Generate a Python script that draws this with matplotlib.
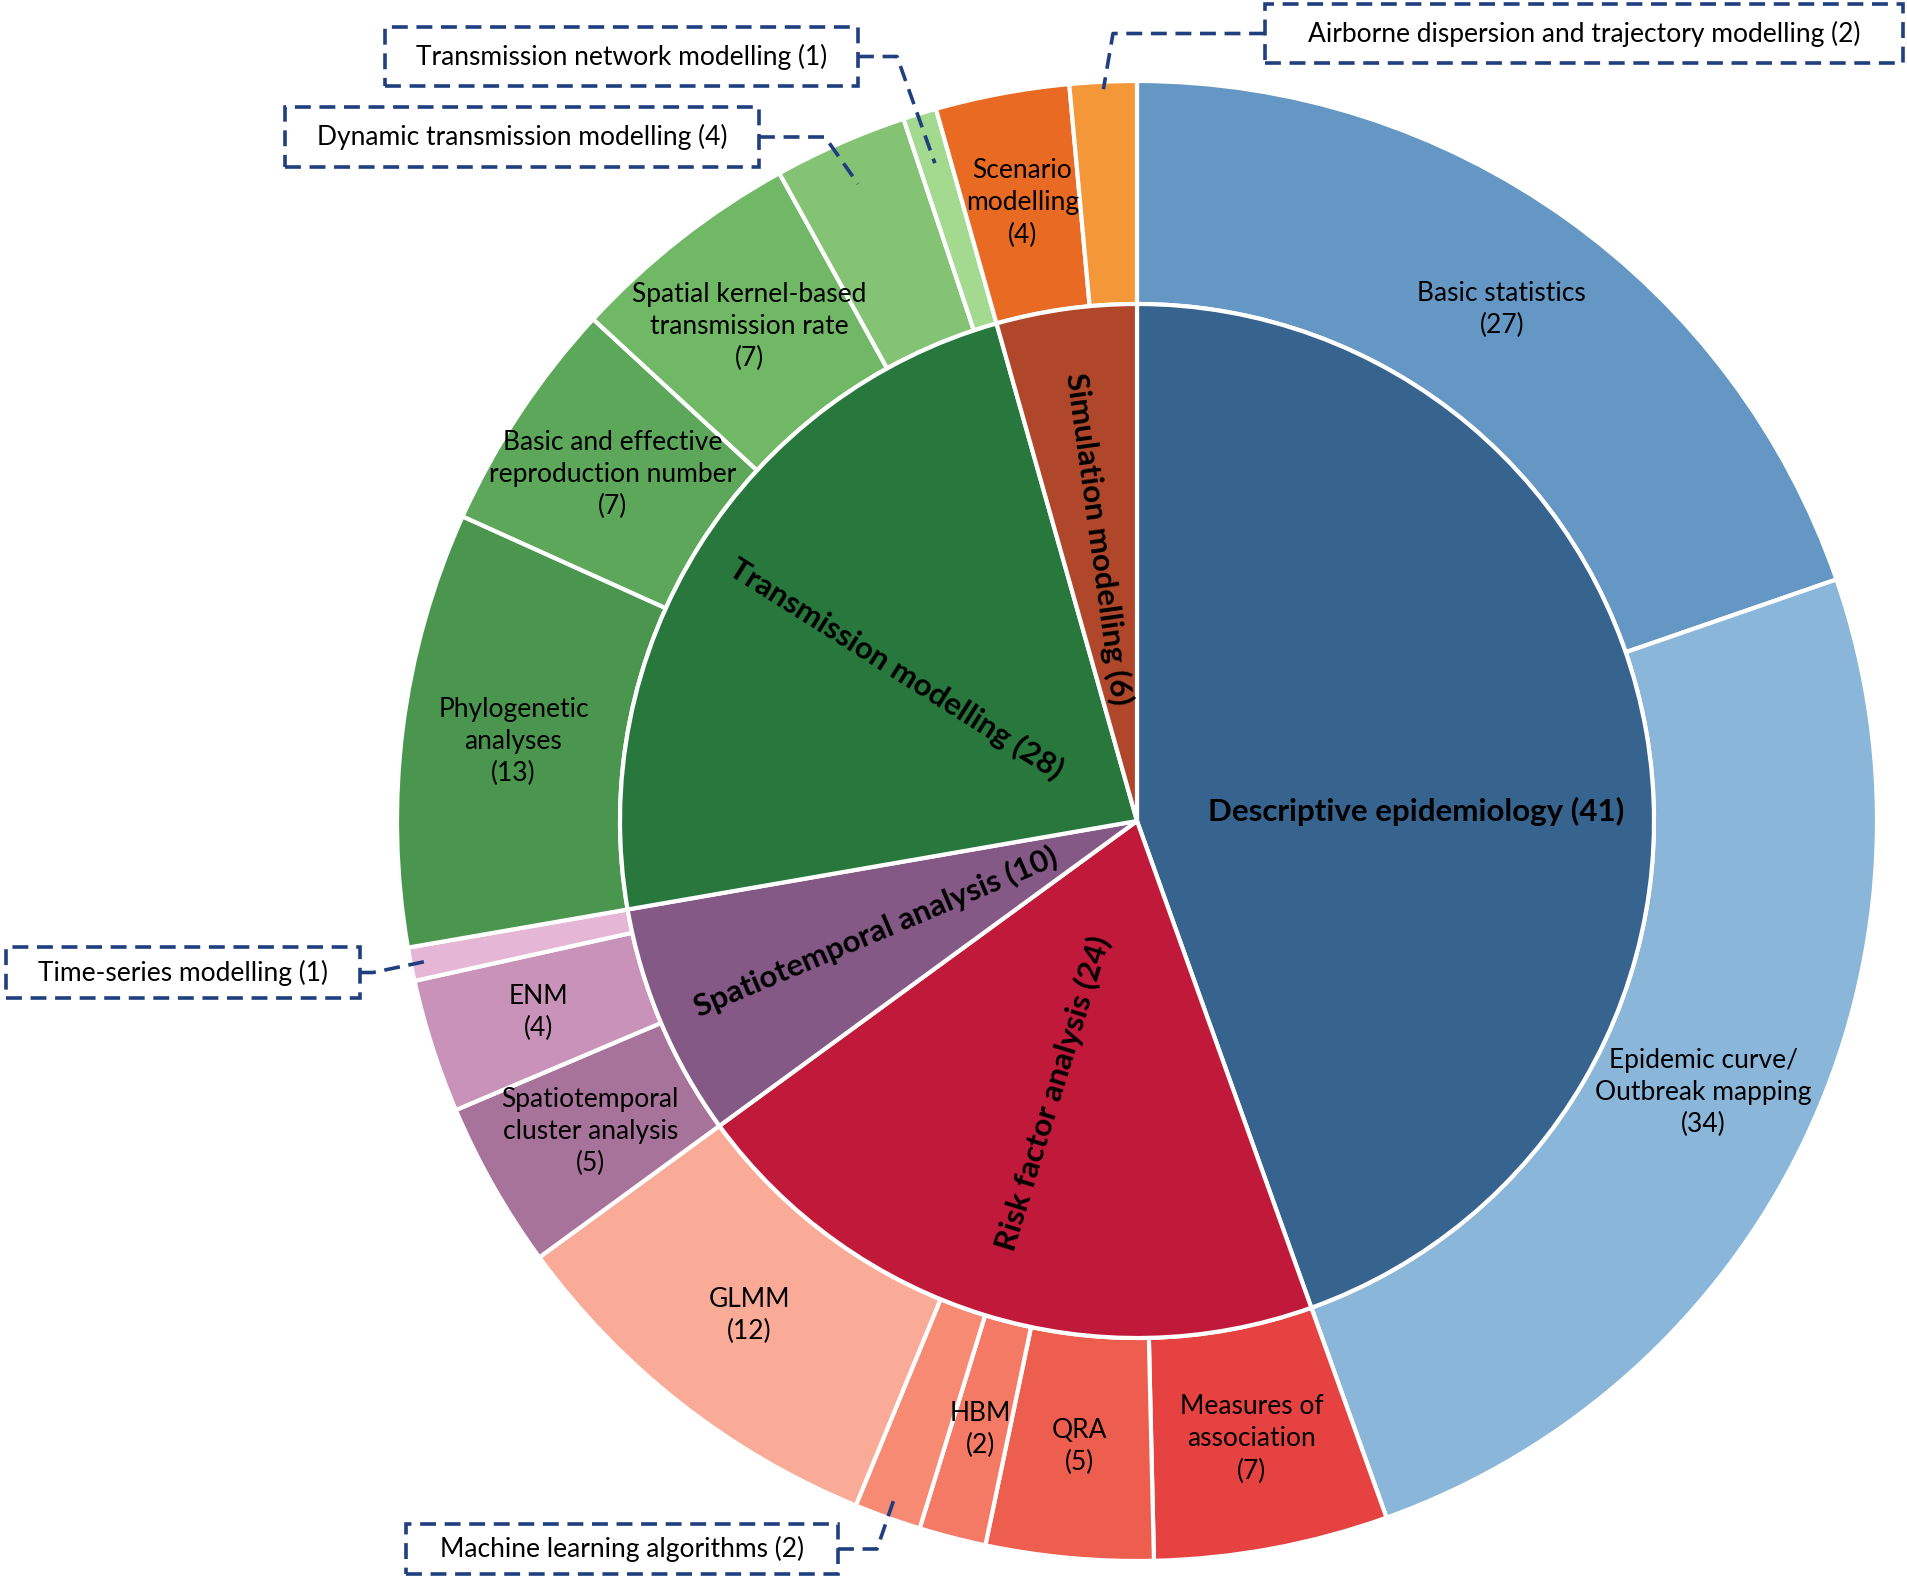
"""
Sunburst of analytical approaches (inner ring) and methods (outer ring)
"""
import numpy as np
import matplotlib.pyplot as plt
from matplotlib.patches import Rectangle

plt.rcParams['font.family'] = ['Lato', 'DejaVu Sans']

# inner ring: main approach, count shown in label
groups = ['Descriptive epidemiology', 'Risk factor analysis', 'Spatiotemporal analysis',
          'Transmission modelling', 'Simulation modelling']
group_counts = [41, 24, 10, 28, 6]
group_colors = ['#37638F', '#C1193A', '#845986', '#28773D', '#B0462A']

# outer ring: methods, clockwise from 12 o'clock
methods = ['Basic statistics', 'Epidemic curve/\nOutbreak mapping', 'Measures of\nassociation',
           'QRA', 'HBM', 'Machine learning algorithms', 'GLMM',
           'Spatiotemporal\ncluster analysis', 'ENM', 'Time-series modelling',
           'Phylogenetic\nanalyses', 'Basic and effective\nreproduction number',
           'Spatial kernel-based\ntransmission rate', 'Dynamic transmission modelling',
           'Transmission network modelling', 'Scenario\nmodelling',
           'Airborne dispersion and trajectory modelling']
method_counts = [27, 34, 7, 5, 2, 2, 12, 5, 4, 1, 13, 7, 7, 4, 1, 4, 2]
method_group = [0, 0, 1, 1, 1, 1, 1, 2, 2, 2, 3, 3, 3, 3, 3, 4, 4]
method_colors = ['#6497C3', '#8AB6DA', '#E64242', '#EE5E4F', '#F47A66', '#F68A72', '#FAAB98',
                 '#A8739B', '#C993B9', '#E6B6D7', '#4A964F', '#5CA75A', '#70B766',
                 '#83C373', '#A4DA8F', '#E86A23', '#F39738']

# methods shown in dashed callout boxes instead of inside the ring
callouts = ['Machine learning algorithms', 'Time-series modelling',
            'Dynamic transmission modelling', 'Transmission network modelling',
            'Airborne dispersion and trajectory modelling']

W, H = 1907, 1579
cx, cy = 1137, H - 821
r_out, r_in = 740, 517
box_color = '#1F3F7F'
dash = (0, (4.4, 2.4))
fs = 19
fs_bold = 22.5


def mid_angles(sizes):
    cum = np.cumsum([0] + list(sizes))
    tot = cum[-1]
    return [np.deg2rad(90 - 360 * (cum[i] + cum[i + 1]) / 2 / tot) for i in range(len(sizes))]


def to_xy(angle, r):
    return cx + r * np.cos(angle), cy + r * np.sin(angle)


group_sizes = [sum(c for c, g in zip(method_counts, method_group) if g == i) for i in range(len(groups))]

fig = plt.figure(figsize=(W / 100, H / 100), dpi=100)
ax = fig.add_axes([0, 0, 1, 1])

ax.pie(method_counts, radius=r_out, center=(cx, cy), startangle=90, counterclock=False,
       colors=method_colors, wedgeprops=dict(width=r_out - r_in, edgecolor='white', linewidth=3))
ax.pie(group_sizes, radius=r_in, center=(cx, cy), startangle=90, counterclock=False,
       colors=group_colors, wedgeprops=dict(edgecolor='white', linewidth=3))
ax.set_xlim(0, W)
ax.set_ylim(0, H)
ax.axis('off')

# outer labels
m_mid = mid_angles(method_counts)
for name, n, a in zip(methods, method_counts, m_mid):
    if name in callouts:
        continue
    x, y = to_xy(a, (r_in + r_out) / 2)
    ax.text(x, y, f'{name}\n({n})', ha='center', va='center', fontsize=fs, linespacing=1.35)

# inner labels, radial except the big one
g_mid = mid_angles(group_sizes)
for i, (name, n) in enumerate(zip(groups, group_counts)):
    a = g_mid[i]
    rot = (np.rad2deg(a) + 90) % 180 - 90
    r = 0.55 * r_in
    if i == 0:
        a, rot, r = np.deg2rad(2), 0, 0.54 * r_in
    x, y = to_xy(a, r)
    ax.text(x, y, f'{name} ({n})', ha='center', va='center', rotation=rot,
            rotation_mode='anchor', fontsize=fs_bold, fontweight='bold')

# callout boxes: (x0, y0, x1, y1) in pixels from top, elbow x, end radius fraction
callout_layout = {
    'Transmission network modelling': ((385, 27, 858, 86), 897, 0.93),
    'Dynamic transmission modelling': ((285, 107, 759, 167), 825, 0.94),
    'Airborne dispersion and trajectory modelling': ((1265, 4, 1903, 63), 1113, 0.99),
    'Time-series modelling': ((6, 947, 360, 998), 373, 0.98),
    'Machine learning algorithms': ((406, 1524, 838, 1574), 877, 0.975),
}
for name, n, a in zip(methods, method_counts, m_mid):
    if name not in callouts:
        continue
    (x0, y0, x1, y1), ex, rf = callout_layout[name]
    yb0, yb1 = H - y1, H - y0
    ax.add_patch(Rectangle((x0, yb0), x1 - x0, yb1 - yb0, fill=False, edgecolor=box_color,
                           linewidth=2.6, linestyle=dash))
    ym = (yb0 + yb1) / 2
    ax.text((x0 + x1) / 2, ym, f'{name} ({n})', ha='center', va='center', fontsize=fs)
    sx = x1 if ex > x1 else x0
    px, py = to_xy(a, rf * r_out)
    ax.plot([sx, ex, px], [ym, ym, py], color=box_color, linewidth=2.6, linestyle=dash)

fig.savefig('out.png', dpi=100)
